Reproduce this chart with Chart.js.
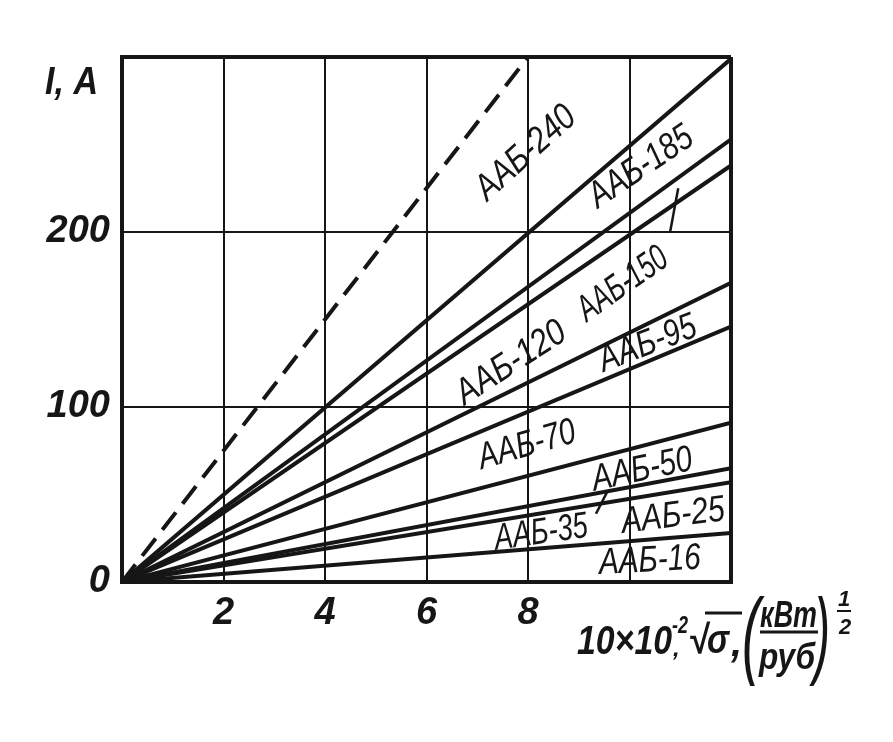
<!DOCTYPE html>
<html lang="ru">
<head>
<meta charset="UTF-8">
<title>ААБ — I от √σ</title>
<script src="https://cdn.jsdelivr.net/npm/chart.js"></script>
<style>
  html, body { margin: 0; padding: 0; background: #fff; }
  #chart { display: block; }
</style>
</head>
<body>
<canvas id="chart" width="893" height="742"></canvas>
<script>
  // cable grades, top line first (the dashed one is ААБ-240)
  const cables = ['ААБ-240', 'ААБ-185', 'ААБ-150', 'ААБ-120', 'ААБ-95', 'ААБ-70', 'ААБ-50', 'ААБ-35', 'ААБ-25', 'ААБ-16'];
  // every line starts at the origin and ends at (endX, endI)
  const endX = [8, 12, 12, 12, 12, 12, 12, 12, 12, 12];
  const endI = [300, 299, 253, 238, 171, 146, 91, 65, 57, 28];
  const xTicks = [2, 4, 6, 8];
  const yTicks = [0, 100, 200];

  const ink = '#161616';
  const face = "'Liberation Sans Narrow', 'Liberation Sans', sans-serif";

  // where the grade names sit (data units), their tilt and squeezed width
  const spots = [
    { x: 7.96, y: 245, rot: -42, w: 122 },
    { x: 10.23, y: 237, rot: -34, w: 118 },
    { x: 9.87, y: 170, rot: -35, w: 102 },
    { x: 7.67, y: 125, rot: -33, w: 124 },
    { x: 10.36, y: 136, rot: -21, w: 102 },
    { x: 7.98, y: 78, rot: -16, w: 100 },
    { x: 10.25, y: 64, rot: -12, w: 102 },
    { x: 8.26, y: 28, rot: -8, w: 94 },
    { x: 10.86, y: 37.5, rot: -7, w: 104 },
    { x: 10.4, y: 12, rot: -3, w: 102 }
  ];
  // short leader strokes from a name to its line
  const leaders = [
    [10.8, 200, 10.96, 225],
    [9.34, 39, 9.56, 51.5]
  ];

  const datasets = cables.map((name, i) => ({
    label: name,
    data: [{ x: 0, y: 0 }, { x: endX[i], y: endI[i] }],
    showLine: true,
    borderColor: ink,
    borderWidth: 4,
    borderDash: i === 0 ? [22, 11] : [],
    pointRadius: 0,
    fill: false
  }));

  const notes = {
    id: 'notes',
    afterDatasetsDraw(chart) {
      const { ctx, scales: { x, y } } = chart;
      ctx.save();
      ctx.fillStyle = ink;
      ctx.strokeStyle = ink;
      ctx.font = 'italic 37px ' + face;
      ctx.textAlign = 'center';
      ctx.textBaseline = 'middle';
      cables.forEach((name, i) => {
        const s = spots[i];
        ctx.save();
        ctx.translate(x.getPixelForValue(s.x), y.getPixelForValue(s.y));
        ctx.rotate(s.rot * Math.PI / 180);
        ctx.fillText(name, 0, 0, s.w);
        ctx.restore();
      });
      ctx.lineWidth = 2.5;
      leaders.forEach(l => {
        ctx.beginPath();
        ctx.moveTo(x.getPixelForValue(l[0]), y.getPixelForValue(l[1]));
        ctx.lineTo(x.getPixelForValue(l[2]), y.getPixelForValue(l[3]));
        ctx.stroke();
      });
      ctx.restore();
    },
    afterDraw(chart) {
      const { ctx, chartArea: a } = chart;
      const R = a.right, B = a.bottom;
      const put = (t, font, dx, dy, w) => { ctx.font = font + face; ctx.fillText(t, R + dx, B + dy, w); };
      const bar = (x1, x2, dy, lw) => {
        ctx.lineWidth = lw;
        ctx.beginPath();
        ctx.moveTo(R + x1, B + dy);
        ctx.lineTo(R + x2, B + dy);
        ctx.stroke();
      };
      ctx.save();
      ctx.fillStyle = ink;
      ctx.strokeStyle = ink;
      ctx.textBaseline = 'alphabetic';
      ctx.textAlign = 'left';

      // y axis name
      ctx.font = 'italic bold 38px ' + face;
      ctx.fillText('I, A', a.left - 77, a.top + 37, 53);

      // x axis name: 10×10⁻², √σ, (кВт/руб)^½
      put('10×10', 'italic bold 40px ', -154, 72, 95);
      put('-2', 'italic bold 24px ', -59, 51, 16);
      put(',', 'italic bold 24px ', -58, 74);
      put('√', 'italic bold 40px ', -43, 71, 20);
      put('σ', 'italic bold 40px ', -24, 71, 22);
      bar(-26, 11, 31, 3);
      put(',', 'italic bold 40px ', 0, 74);
      put('(', 'italic 96px ', 11, 84, 18);
      put('кВт', 'italic bold 36px ', 29, 45, 57);
      bar(29, 87, 50, 3);
      put('руб', 'italic bold 36px ', 28, 87, 56);
      put(')', 'italic 96px ', 83, 84, 16);
      ctx.textAlign = 'center';
      put('1', 'italic bold 22px ', 113, 24);
      bar(106, 120, 29, 2);
      put('2', 'italic bold 22px ', 114, 52);
      ctx.restore();
    }
  };

  const edge = (max) => (c) => (c.tick && (c.tick.value === max || c.tick.value === 0) ? 4 : 2);

  new Chart(document.getElementById('chart'), {
    type: 'scatter',
    data: { datasets },
    options: {
      responsive: false,
      animation: false,
      layout: { padding: { left: 0, right: 162, top: 57, bottom: 110 } },
      plugins: { legend: { display: false }, tooltip: { enabled: false } },
      scales: {
        x: {
          type: 'linear', min: 0, max: 12,
          afterFit: (s) => { s.height = 50; },
          ticks: {
            stepSize: 2, color: ink, padding: 9, maxRotation: 0,
            font: { family: face, size: 38, style: 'italic', weight: 'bold' },
            callback: (v) => (xTicks.includes(v) ? String(v) : '')
          },
          grid: { color: ink, lineWidth: edge(12), drawTicks: false },
          border: { display: true, color: ink, width: 4 }
        },
        y: {
          type: 'linear', min: 0, max: 300,
          afterFit: (s) => { s.width = 122; },
          ticks: {
            stepSize: 100, color: ink, padding: 12,
            font: { family: face, size: 38, style: 'italic', weight: 'bold' },
            callback: (v) => (yTicks.includes(v) ? String(v) : '')
          },
          grid: { color: ink, lineWidth: edge(300), drawTicks: false },
          border: { display: true, color: ink, width: 4 }
        }
      }
    },
    plugins: [notes]
  });
</script>
</body>
</html>
